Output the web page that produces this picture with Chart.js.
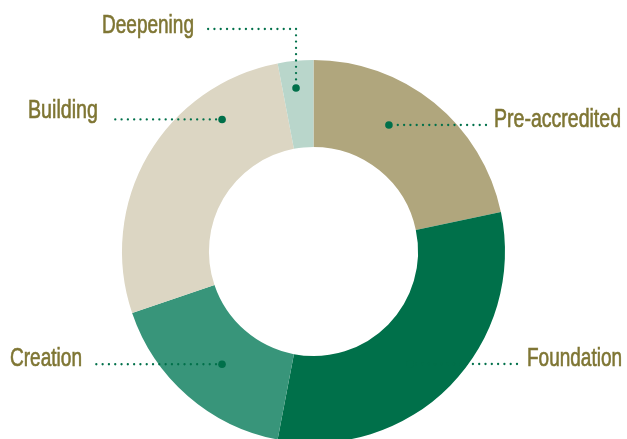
<!DOCTYPE html>
<html>
<head>
<meta charset="utf-8">
<script src="https://cdn.jsdelivr.net/npm/chart.js@4/dist/chart.umd.min.js"></script>
<style>
html,body{margin:0;padding:0;background:#fff;overflow:hidden;width:627px;height:439px;}
canvas{display:block;}
</style>
</head>
<body>
<canvas id="c" width="627" height="460"></canvas>
<script>
// ---- data ----
const categories = ['Pre-accredited', 'Foundation', 'Creation', 'Building', 'Deepening'];
const shares = [21.7, 31.3, 16.8, 27.2, 3.0];
const colors = ['#b0a67d', '#00704a', '#38957a', '#dcd6c3', '#b9d6cb'];

// ---- annotation layout (style only) ----
const labelLayout = {
  'Pre-accredited': {ang: 30.8, r: 147.3, side: 'right', textX: 494, baseY: 127, lineEnd: 486, width: 127},
  'Foundation':     {ang: 139.4, r: 148.2, side: 'right', textX: 527, baseY: 366, lineEnd: 517, width: 95},
  'Creation':       {ang: 219.05, r: 145.2, side: 'left', textX: 82, baseY: 366, lineEnd: 94, width: 72},
  'Building':       {ang: 325.3, r: 160.6, side: 'left', textX: 98, baseY: 118, lineEnd: 111, width: 70},
  'Deepening':      {ang: 353.9, r: 164.4, side: 'left', textX: 194, baseY: 33, lineEnd: 208, elbowY: 29, width: 92}
};

const leaderPlugin = {
  id: 'leaders',
  afterDatasetsDraw(chart) {
    const ctx = chart.ctx;
    const arc = chart.getDatasetMeta(0).data[0];
    const cx = arc.x, cy = arc.y;
    const green = '#00704a';
    function dotsAlong(x1, y1, x2, y2) {
      const len = Math.hypot(x2 - x1, y2 - y1);
      const step = 6.3;
      const n = Math.floor(len / step);
      for (let k = 0; k <= n; k++) {
        const t = (len - k * step) / len;
        const x = x1 + (x2 - x1) * t, y = y1 + (y2 - y1) * t;
        ctx.beginPath();
        ctx.arc(x, y, 1.15, 0, Math.PI * 2);
        ctx.fill();
      }
    }
    ctx.save();
    categories.forEach((name) => {
      const L = labelLayout[name];
      const a = L.ang * Math.PI / 180;
      const dx = cx + Math.sin(a) * L.r;
      const dy = cy - Math.cos(a) * L.r;
      ctx.fillStyle = green;
      if (L.elbowY !== undefined) {
        dotsAlong(dx, dy - 6, dx, L.elbowY);
        dotsAlong(L.lineEnd, L.elbowY, dx - 6, L.elbowY);
      } else if (L.side === 'right') {
        dotsAlong(dx + 6, dy, L.lineEnd, dy);
      } else {
        dotsAlong(L.lineEnd, dy, dx - 6, dy);
      }
      ctx.beginPath();
      ctx.arc(dx, dy, 3.8, 0, Math.PI * 2);
      ctx.fill();

      // label text
      ctx.font = '25px "Liberation Sans", Arial, sans-serif';
      ctx.fillStyle = '#7f7634';
      ctx.strokeStyle = '#7f7634';
      ctx.lineWidth = 0.6;
      ctx.textBaseline = 'alphabetic';
      ctx.textAlign = 'left';
      const w = ctx.measureText(name).width;
      const sx = L.width / w;
      const left = L.side === 'right' ? L.textX : L.textX - L.width;
      ctx.save();
      ctx.translate(left, L.baseY);
      ctx.scale(sx, 1);
      ctx.fillText(name, 0, 0);
      ctx.strokeText(name, 0, 0);
      ctx.restore();
    });
    ctx.restore();
  }
};

new Chart(document.getElementById('c'), {
  type: 'doughnut',
  data: {
    labels: categories,
    datasets: [{
      data: shares,
      backgroundColor: colors,
      borderWidth: 0,
      hoverOffset: 0
    }]
  },
  options: {
    responsive: false,
    animation: false,
    cutout: '54.6%',
    layout: {padding: {top: 60, bottom: 17, left: 122, right: 122}},
    plugins: {legend: {display: false}, tooltip: {enabled: false}}
  },
  plugins: [leaderPlugin]
});
</script>
</body>
</html>
